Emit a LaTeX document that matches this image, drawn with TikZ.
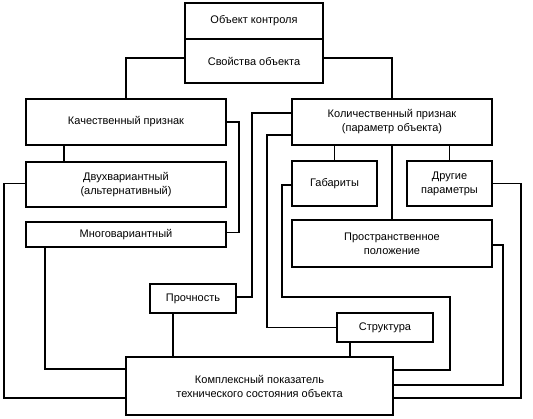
\documentclass[tikz,border=0pt]{standalone}
\usepackage{fontspec}
\setmainfont{Liberation Sans}
\usepackage{tikz}
\usetikzlibrary{calc}

\tikzset{
    blk/.style={draw, line width=1.8pt, align=center, inner sep=2pt,
        font=\fontsize{11}{14}\selectfont},
    lnk/.style={line width=1.8pt}
}

\begin{document}
\begin{tikzpicture}[x=1pt, y=-1pt]

    \useasboundingbox (0,0) rectangle (533,419);

    %% --- Top blocks ---
    \node[blk, minimum width=138pt, minimum height=36pt] (obj) at (254,21) {Объект контроля};
    \node[blk, minimum width=138pt, minimum height=44pt] (prop) at (254,61) {Свойства объекта};

    %% --- Left branch ---
    \node[blk, minimum width=200pt, minimum height=46pt] (qual) at (126,122) {Качественный признак};
    \node[blk, minimum width=200pt, minimum height=45pt] (twov) at (126,184.5) {Двухвариантный\\(альтернативный)};
    \node[blk, minimum width=200pt, minimum height=25pt] (multi) at (126,234.5) {Многовариантный};

    %% --- Right branch ---
    \node[blk, minimum width=200pt, minimum height=46pt] (quant) at (392,122) {Количественный признак\\(параметр объекта)};
    \node[blk, minimum width=85pt, minimum height=45pt] (gab) at (334.5,183.5) {Габариты};
    \node[blk, minimum width=85pt, minimum height=45pt] (other) at (449.5,183.5) {Другие\\параметры};
    \node[blk, minimum width=200pt, minimum height=47pt] (space) at (392,243.5) {Пространственное\\положение};

    %% --- Lower blocks ---
    \node[blk, minimum width=86pt, minimum height=29pt] (strength) at (193,298.5) {Прочность};
    \node[blk, minimum width=96pt, minimum height=29pt] (struct) at (385,327.5) {Структура};
    \node[blk, minimum width=267pt, minimum height=58pt] (compl) at (259.5,386) {Комплексный показатель\\технического состояния объекта};

    %% Links from the object properties
    \draw[lnk] ([yshift=3pt]prop.west) -| (qual.north);
    \draw[lnk] ([yshift=3pt]prop.east) -| (quant.north);

    %% Left branch links
    \draw[lnk] ([xshift=-62pt]qual.south) -- ([xshift=-62pt]twov.north);
    \draw[lnk] (qual.east) -- ++(12,0) |- ([yshift=2pt]multi.east);
    \draw[lnk] ([yshift=1pt]twov.west) -- ++(-21,0) |- ([yshift=-12pt]compl.west);
    \draw[lnk] ([xshift=-81pt]multi.south) |- ([yshift=17pt]compl.west);

    %% Right branch links
    \draw[lnk] (gab.north |- quant.south) -- (gab.north);
    \draw[lnk] (other.north |- quant.south) -- (other.north);
    \draw[lnk] (quant.south) -- (space.north);
    \draw[lnk] ([yshift=9pt]quant.west) -| (252,297) -- ([yshift=1.5pt]strength.east);
    \draw[lnk] ([yshift=-13pt]quant.west) -| (267,327.5) -- (struct.west);

    %% Into the complex index
    \draw[lnk] ([xshift=-20pt]strength.south) -- ([xshift=-20pt]strength.south |- compl.north);
    \draw[lnk] ([xshift=-35pt]struct.south) -- ([xshift=-35pt]struct.south |- compl.north);
    \draw[lnk] ([yshift=-1.5pt]gab.west) -| (282,297) -| (450,370) -- ([yshift=16pt]compl.east);
    \draw[lnk] ([yshift=-1.5pt]space.east) -- ++(10,0) |- ([yshift=1pt]compl.east);
    \draw[lnk] (other.east) -- ++(28,0) |- ([yshift=-12pt]compl.east);

\end{tikzpicture}
\end{document}
